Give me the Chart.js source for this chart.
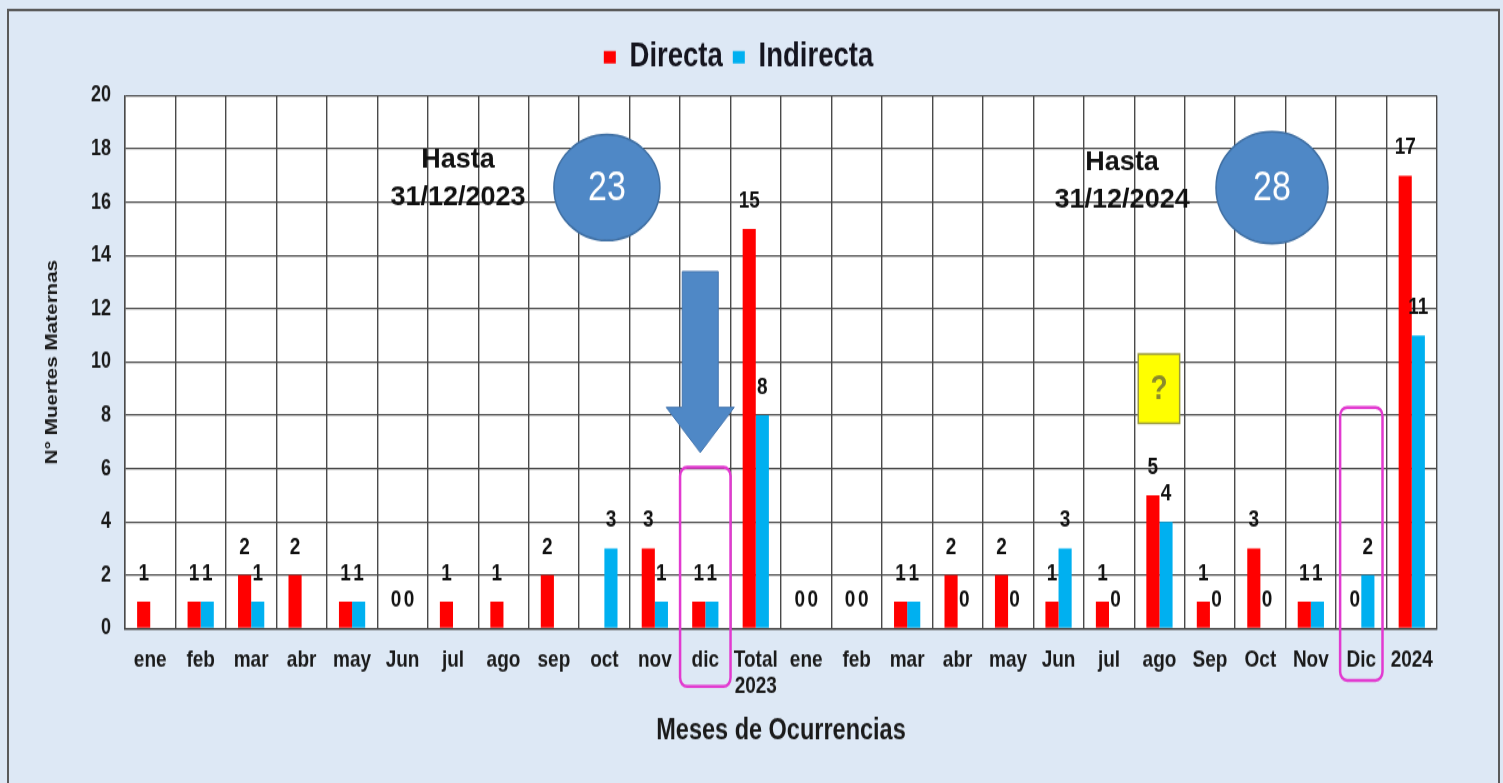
<!DOCTYPE html>
<html>
<head>
<meta charset="utf-8">
<title>Muertes Maternas</title>
<script src="https://cdn.jsdelivr.net/npm/chart.js@4.4.1/dist/chart.umd.min.js"></script>
<style>
  html, body { margin: 0; padding: 0; background: #dde8f5; }
  #wrap { width: 1503px; height: 783px; overflow: hidden; }
</style>
</head>
<body>
<!-- the source picture is squeezed sideways, so the canvas is drawn short and stretched tall -->
<div id="wrap"><canvas id="chart" width="1503" height="626" style="display:block;width:1503px;height:783px"></canvas></div>
<script>
// data (null = no bar and no label)
const months = ['ene', 'feb', 'mar', 'abr', 'may', 'Jun', 'jul', 'ago', 'sep', 'oct', 'nov', 'dic',
  ['Total', '2023'],
  'ene', 'feb', 'mar', 'abr', 'may', 'Jun', 'jul', 'ago', 'Sep', 'Oct', 'Nov', 'Dic', '2024'];
const directa = [1, 1, 2, 2, 1, 0, 1, 1, 2, null, 3, 1, 15,
  0, 0, 1, 2, 2, 1, 1, 5, 1, 3, 1, 0, 17];
const indirecta = [null, 1, 1, null, 1, 0, null, null, null, 3, 1, 1, 8,
  0, 0, 1, 0, 0, 3, 0, 4, 0, 0, 1, 2, 11];
const yTicks = [0, 2, 4, 6, 8, 10, 12, 14, 16, 18, 20];

// notes drawn over the chart
const hastaText = [['Hasta', '31/12/2023'], ['Hasta', '31/12/2024']];
const totalCircles = ['23', '28'];

const SY = 783 / 626; // vertical stretch of the canvas
const FONT = "'Liberation Sans', Arial, sans-serif";
const RED = '#ff0000';
const BLUE = '#00b0f0';

const background = {
  id: 'background',
  afterInit(chart) {
    // leave a bit more room between the legend and the plot
    const lg = chart.legend;
    const fit = lg.fit.bind(lg);
    lg.fit = () => { fit(); lg.height += 7; };
  },
  beforeDraw(chart) {
    const { ctx, chartArea: a } = chart;
    ctx.save();
    ctx.fillStyle = '#dde8f5';
    ctx.fillRect(0, 0, chart.width, chart.height);
    ctx.strokeStyle = '#5a5a5a';
    ctx.lineWidth = 2;
    ctx.strokeRect(8, 8, chart.width - 12, chart.height + 20);
    ctx.fillStyle = '#ffffff';
    ctx.fillRect(a.left, a.top, a.right - a.left, a.bottom - a.top);
    ctx.restore();
  }
};

const valueLabels = {
  id: 'valueLabels',
  afterDatasetsDraw(chart) {
    const { ctx } = chart;
    ctx.save();
    ctx.font = 'bold 19px ' + FONT;
    ctx.fillStyle = '#111111';
    ctx.textAlign = 'center';
    ctx.textBaseline = 'middle';
    chart.data.datasets.forEach((ds, i) => {
      chart.getDatasetMeta(i).data.forEach((bar, j) => {
        const v = ds.data[j];
        if (v === null) return;
        ctx.fillText(String(v), bar.x, bar.y - 22.5);
      });
    });
    ctx.restore();
  }
};

function roundRect(ctx, x, y, w, h, r) {
  ctx.beginPath();
  ctx.moveTo(x + r, y);
  ctx.arcTo(x + w, y, x + w, y + h, r);
  ctx.arcTo(x + w, y + h, x, y + h, r);
  ctx.arcTo(x, y + h, x, y, r);
  ctx.arcTo(x, y, x + w, y, r);
  ctx.closePath();
}

const notes = {
  id: 'notes',
  afterDraw(chart) {
    const { ctx } = chart;
    const x = chart.scales.x, y = chart.scales.y;
    const cw = x.getPixelForValue(1) - x.getPixelForValue(0);
    const cx = (i, f) => x.getPixelForValue(i) + (f || 0) * cw;
    ctx.save();
    ctx.textAlign = 'center';
    ctx.textBaseline = 'middle';

    // "Hasta" texts (mostly undo the stretch)
    ctx.font = 'bold 27px ' + FONT;
    ctx.fillStyle = '#111111';
    [[6, 0.1, 17.6], [19, 0.26, 17.5]].forEach(([i, f, v], k) => {
      [0, 1].forEach(line => {
        ctx.save();
        ctx.translate(cx(i, f), y.getPixelForValue(v - line * 1.4));
        ctx.scale(1, 1.05 / SY);
        ctx.fillText(hastaText[k][line], 0, 0);
        ctx.restore();
      });
    });

    // blue circles with the yearly totals
    [[9, 0.05, 16.55, 53], [22, 0.23, 16.55, 56]].forEach(([i, f, v, r], k) => {
      ctx.beginPath();
      ctx.ellipse(cx(i, f), y.getPixelForValue(v), r, r / SY, 0, 0, Math.PI * 2);
      ctx.fillStyle = '#4f88c6';
      ctx.fill();
      ctx.lineWidth = 1.5;
      ctx.strokeStyle = '#3f6fa3';
      ctx.stroke();
      ctx.fillStyle = '#ffffff';
      ctx.font = '34px ' + FONT;
      ctx.fillText(totalCircles[k], cx(i, f), y.getPixelForValue(v) + 1);
    });

    // arrow pointing at dic 2023
    const ax = cx(11, -0.1);
    const aTop = y.getPixelForValue(13.4), aNeck = y.getPixelForValue(8.3), aTip = y.getPixelForValue(6.6);
    ctx.beginPath();
    ctx.moveTo(ax - 18, aTop);
    ctx.lineTo(ax + 18, aTop);
    ctx.lineTo(ax + 18, aNeck);
    ctx.lineTo(ax + 34, aNeck);
    ctx.lineTo(ax, aTip);
    ctx.lineTo(ax - 34, aNeck);
    ctx.lineTo(ax - 18, aNeck);
    ctx.closePath();
    ctx.fillStyle = '#4f88c6';
    ctx.fill();
    ctx.lineWidth = 1;
    ctx.strokeStyle = '#4677b0';
    ctx.stroke();

    // magenta frames around dic
    ctx.strokeStyle = '#e23ad0';
    ctx.lineWidth = 2.5;
    let top = y.getPixelForValue(6.05);
    roundRect(ctx, cx(11, -0.5), top, cw, y.getPixelForValue(-2.18) - top, 7);
    ctx.stroke();
    top = y.getPixelForValue(8.3);
    roundRect(ctx, cx(24, -0.42), top, cw * 0.84, y.getPixelForValue(-1.95) - top, 7);
    ctx.stroke();

    // yellow question box over ago 2024
    const qx = cx(20, -0.42), qy = y.getPixelForValue(10.3);
    const qw = cw * 0.82, qh = y.getPixelForValue(7.7) - qy;
    ctx.fillStyle = '#ffff00';
    ctx.fillRect(qx, qy, qw, qh);
    ctx.strokeStyle = '#9c9c3c';
    ctx.lineWidth = 1.5;
    ctx.strokeRect(qx, qy, qw, qh);
    ctx.fillStyle = '#8a8a2c';
    ctx.font = 'bold 28px ' + FONT;
    ctx.fillText('?', qx + qw / 2, qy + qh / 2 + 1);

    ctx.restore();
  }
};

new Chart(document.getElementById('chart'), {
  type: 'bar',
  data: {
    labels: months,
    datasets: [
      { label: 'Directa', data: directa, backgroundColor: RED, borderWidth: 0 },
      { label: 'Indirecta', data: indirecta, backgroundColor: BLUE, borderWidth: 0 }
    ]
  },
  options: {
    responsive: false,
    animation: false,
    devicePixelRatio: 1,
    categoryPercentage: 0.52,
    barPercentage: 1.0,
    layout: { padding: { left: 40, right: 66, top: 22, bottom: 10 } },
    plugins: {
      legend: {
        position: 'top',
        labels: {
          boxWidth: 12,
          boxHeight: 10,
          padding: 10,
          color: '#15151f',
          font: { family: FONT, size: 27.5, weight: 'bold' }
        }
      },
      tooltip: { enabled: false }
    },
    scales: {
      x: {
        grid: { color: '#4a4a4a', lineWidth: 1.4, drawTicks: false, offset: true },
        border: { color: '#4a4a4a', width: 1.4 },
        ticks: {
          color: '#1a1a1a',
          padding: 15,
          maxRotation: 0,
          autoSkip: false,
          font: { family: FONT, size: 19, weight: 'bold', lineHeight: 1.1 }
        },
        title: {
          display: true,
          text: 'Meses de Ocurrencias',
          color: '#1a1a1a',
          padding: { top: 0, bottom: 17 },
          font: { family: FONT, size: 23.5, weight: 'bold', lineHeight: 1.2 }
        },
        afterFit(s) { s.height = 113.6; }
      },
      y: {
        min: 0,
        max: 20,
        afterBuildTicks(s) { s.ticks = yTicks.map(v => ({ value: v })); },
        grid: { color: '#4a4a4a', lineWidth: 1.3, drawTicks: false },
        border: { color: '#4a4a4a', width: 1.4 },
        ticks: {
          color: '#1a1a1a',
          padding: 14,
          font: { family: FONT, size: 18, weight: 'bold' }
        },
        title: {
          display: true,
          text: 'N° Muertes Maternas',
          color: '#1a1a1a',
          padding: { top: 3, bottom: 0 },
          font: { family: FONT, size: 16.5, weight: 'bold', lineHeight: 1.2 }
        },
        afterFit(s) { s.width = 85; }
      }
    }
  },
  plugins: [background, valueLabels, notes]
});
</script>
</body>
</html>
